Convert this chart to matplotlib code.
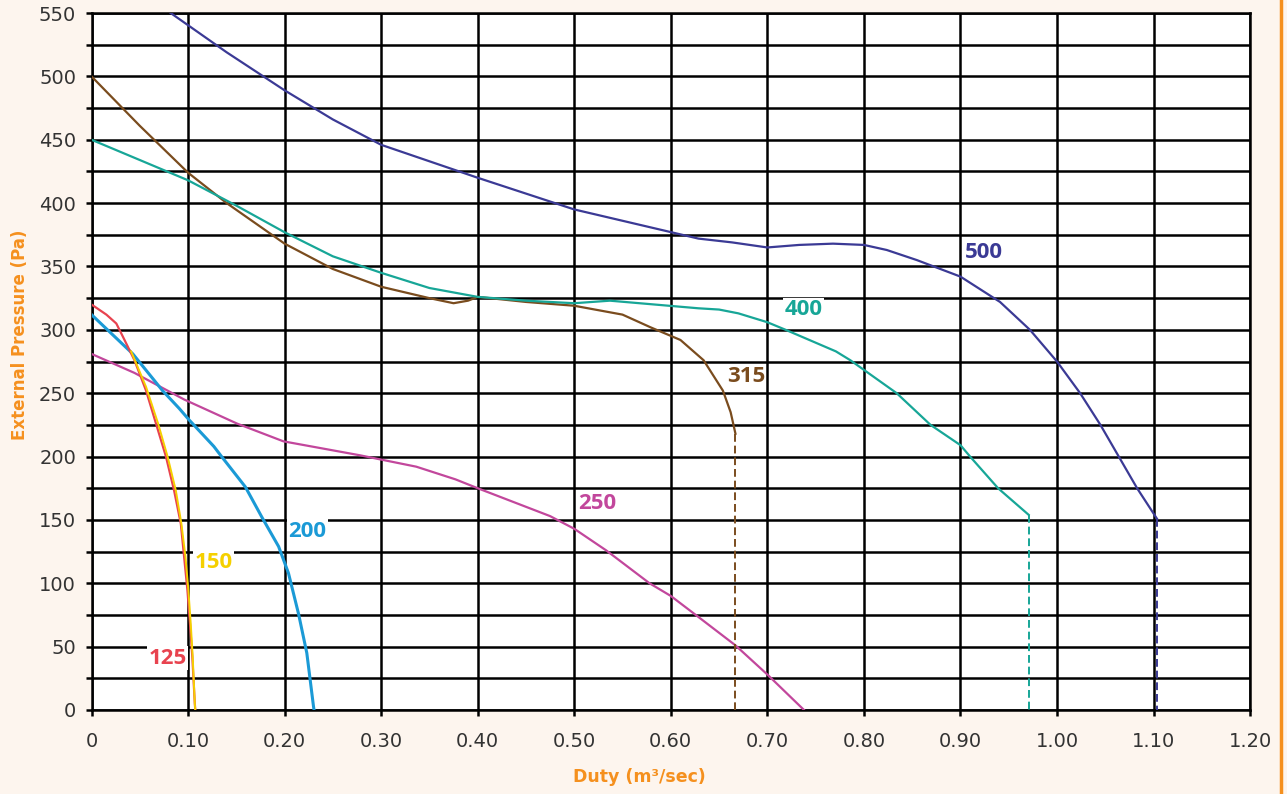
import matplotlib
matplotlib.use("Agg")
import matplotlib.pyplot as plt
from matplotlib.lines import Line2D

# Fan curves: duty (m3/s) vs external pressure (Pa)
fan_125_x = [0.0, 0.0154, 0.0257, 0.0342, 0.0445, 0.0565, 0.0668, 0.0771, 0.0856, 0.0925, 0.0959, 0.0993, 0.102, 0.1044, 0.107, 0.1075]
fan_125_y = [320, 312, 305, 292, 276, 252, 226, 200, 173, 147, 121, 95, 68, 42, 5, 0]

fan_150_x = [0.041, 0.0565, 0.069, 0.0788, 0.0874, 0.0931, 0.0973, 0.1003, 0.1028, 0.1048, 0.107, 0.1075]
fan_150_y = [283, 255, 226, 200, 173, 147, 121, 95, 68, 42, 5, 0]

fan_200_x = [0.0, 0.0428, 0.0736, 0.0908, 0.101, 0.1267, 0.1337, 0.1594, 0.1766, 0.1938, 0.204, 0.2144, 0.223, 0.2299, 0.2305]
fan_200_y = [312, 281, 252, 238, 229, 208, 201, 176, 152, 129, 108, 76, 45, 3, 0]

fan_250_x = [0.0, 0.0445, 0.096, 0.1508, 0.1988, 0.278, 0.3364, 0.377, 0.40, 0.475, 0.50, 0.533, 0.578, 0.60, 0.6276, 0.667, 0.70, 0.738]
fan_250_y = [281, 266, 245, 226, 212, 201, 192, 182, 175, 153, 143, 126, 100, 90, 74, 51, 28, 0]

fan_315_x = [0.0, 0.05, 0.10, 0.14, 0.20, 0.25, 0.30, 0.35, 0.375, 0.39, 0.40, 0.45, 0.50, 0.55, 0.579, 0.61, 0.634, 0.654, 0.662, 0.667]
fan_315_y = [500, 461, 424, 400, 368, 348, 334, 325, 321, 323, 326, 322, 319, 312, 302, 292, 276, 252, 235, 218]
fan_315_cut = 218

fan_400_x = [0.0, 0.05, 0.10, 0.15, 0.20, 0.25, 0.30, 0.35, 0.40, 0.45, 0.50, 0.537, 0.6286, 0.65, 0.67, 0.70, 0.719, 0.771, 0.786, 0.834, 0.869, 0.90, 0.910, 0.939, 0.9707]
fan_400_y = [450, 434, 418, 398, 377, 358, 345, 333, 326, 323, 321, 323, 317, 316, 313, 306, 300, 283, 276, 250, 225, 209, 200, 175, 154]
fan_400_cut = 154

fan_500_x = [0.082, 0.14, 0.20, 0.25, 0.30, 0.40, 0.50, 0.6286, 0.6634, 0.70, 0.733, 0.768, 0.80, 0.8237, 0.855, 0.90, 0.941, 0.972, 1.0, 1.024, 1.045, 1.064, 1.083, 1.1035]
fan_500_y = [550, 519, 489, 466, 446, 420, 395, 372, 369, 365, 367, 368, 367, 363, 355, 342, 322, 300, 275, 250, 225, 200, 175, 151]
fan_500_cut = 151

x_ticks = [0, 0.1, 0.2, 0.3, 0.4, 0.5, 0.6, 0.7, 0.8, 0.9, 1.0, 1.1, 1.2]
x_tick_labels = ["0", "0.10", "0.20", "0.30", "0.40", "0.50", "0.60", "0.70", "0.80", "0.90", "1.00", "1.10", "1.20"]
y_ticks = list(range(0, 551, 50))

col_125 = "#e8434f"
col_150 = "#f5d000"
col_200 = "#1b9ad6"
col_250 = "#c2479c"
col_315 = "#7a4c1e"
col_400 = "#17a697"
col_500 = "#3b3a95"
orange = "#f5901e"
bg = "#fdf5ee"

fig = plt.figure(figsize=(12.87, 7.94), dpi=100)
fig.patch.set_facecolor(bg)
ax = fig.add_axes([0.0711, 0.1058, 0.9002, 0.8778])
ax.set_facecolor("white")

ax.set_xlim(0, 1.2)
ax.set_ylim(0, 550)

# grid: black lines every 0.1 on x, every 25 on y
ax.set_xticks(x_ticks)
ax.set_xticklabels(x_tick_labels)
ax.set_yticks(y_ticks)
ax.set_yticks(list(range(25, 551, 50)), minor=True)
ax.grid(True, which="both", axis="y", color="black", linewidth=1.8, zorder=1)
ax.grid(True, which="major", axis="x", color="black", linewidth=1.8, zorder=1)
for s in ax.spines.values():
    s.set_color("black")
    s.set_linewidth(1.8)
ax.tick_params(which="both", direction="out", length=4, width=1.8, color="black",
               labelsize=14, labelcolor="#333333")
ax.tick_params(axis="x", pad=12)
ax.tick_params(axis="y", pad=7)

lw = 1.6
ax.plot(fan_250_x, fan_250_y, color=col_250, lw=lw, zorder=3)
ax.plot(fan_200_x, fan_200_y, color=col_200, lw=2.2, zorder=3)
ax.plot(fan_125_x, fan_125_y, color=col_125, lw=lw, zorder=3)
ax.plot(fan_150_x, fan_150_y, color=col_150, lw=1.4, zorder=4)
ax.plot(fan_315_x, fan_315_y, color=col_315, lw=lw, zorder=3)
ax.plot(fan_400_x, fan_400_y, color=col_400, lw=lw, zorder=3)
ax.plot(fan_500_x, fan_500_y, color=col_500, lw=lw, zorder=3)

# dashed drops to zero at the end of the curves
ax.plot([fan_315_x[-1]] * 2, [fan_315_cut, 0], color=col_315, lw=1.4, ls=(0, (4, 2)), zorder=3)
ax.plot([fan_400_x[-1]] * 2, [fan_400_cut, 0], color=col_400, lw=1.4, ls=(0, (4, 2)), zorder=3)
ax.plot([fan_500_x[-1]] * 2, [fan_500_cut, 0], color=col_500, lw=1.4, ls=(0, (4, 2)), zorder=3)

# curve labels
labels = [
    ("125", 0.0588, 41, col_125),
    ("150", 0.107, 116, col_150),
    ("200", 0.204, 141, col_200),
    ("250", 0.504, 163, col_250),
    ("315", 0.658, 263, col_315),
    ("400", 0.718, 316, col_400),
    ("500", 0.905, 361, col_500),
]
for txt, lx, ly, c in labels:
    ax.text(lx, ly, txt, color=c, fontsize=16, fontweight="bold", family="Open Sans",
            ha="left", va="center", zorder=5,
            bbox=dict(facecolor="white", edgecolor="none", pad=1.0))

ax.set_ylabel("External Pressure (Pa)", color=orange, fontsize=12, fontweight="bold")
ax.set_xlabel("Duty (m\u00b3/sec)", color=orange, fontsize=12.5, fontweight="bold")
ax.yaxis.set_label_coords(-0.054, 0.538)
ax.xaxis.set_label_coords(0.473, -0.083)

# orange border on the right edge
fig.add_artist(Line2D([0.9955, 0.9955], [0, 1], color=orange, lw=2.5, transform=fig.transFigure))

fig.savefig("out.png", dpi=100, facecolor=bg)
